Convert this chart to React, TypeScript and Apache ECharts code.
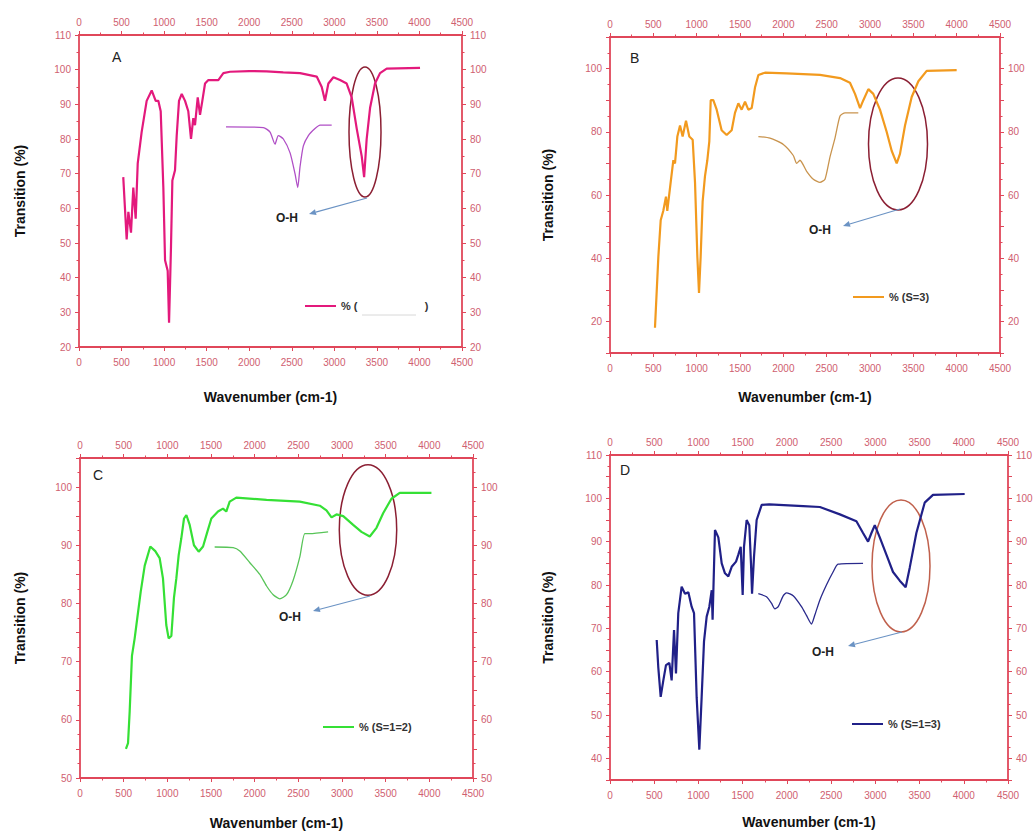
import React, { useEffect, useRef } from "react";
import * as echarts from "echarts";

// ---------- DATA (wavenumber cm-1, transmission %) ----------
const aMain: [number, number][] = [
  [520, 69], [560, 51], [580, 59], [611, 53], [638, 66], [666, 57], [690, 73], [736, 82], [795, 91], [854, 94],
  [901, 91], [932, 91], [960, 88], [991, 66], [1011, 45], [1042, 42], [1058, 27], [1081, 49], [1097, 68], [1128, 71],
  [1148, 81], [1175, 91], [1207, 93], [1246, 91], [1284, 88], [1316, 80], [1343, 86], [1363, 84], [1395, 92], [1422, 87],
  [1449, 91], [1481, 96], [1520, 97], [1637, 97], [1696, 99], [1774, 99.4], [2000, 99.6], [2205, 99.5], [2400, 99.2],
  [2597, 99], [2793, 98], [2852, 95], [2890, 91], [2930, 96], [2989, 97.8], [3067, 97], [3145, 96], [3204, 92],
  [3263, 83], [3322, 75], [3350, 69], [3380, 80], [3420, 89], [3478, 96], [3537, 99], [3615, 100.3], [4007, 100.5],
];
const aInset: [number, number][] = [
  [1727, 83.5], [2166, 83.3], [2245, 82], [2303, 78.5], [2342, 81], [2401, 80], [2480, 76], [2538, 70], [2570, 66],
  [2597, 72], [2636, 78], [2695, 81], [2773, 83], [2832, 84], [2969, 84],
];
const bMain: [number, number][] = [
  [519, 18], [558, 40.5], [585, 52], [615, 55], [646, 59.5], [661, 55], [700, 64], [731, 71], [750, 70], [777, 78.5],
  [808, 82], [838, 78.5], [877, 83.5], [915, 78.5], [954, 77.5], [981, 64], [1008, 40.5], [1027, 29], [1046, 40.5],
  [1069, 58], [1096, 66], [1123, 71], [1146, 77], [1162, 90], [1192, 90], [1231, 87], [1288, 80.5], [1346, 79],
  [1404, 80.5], [1442, 86], [1481, 89], [1519, 87], [1558, 89.5], [1596, 87], [1635, 87.5], [1673, 94], [1712, 98],
  [1788, 98.7], [2038, 98.5], [2423, 98], [2654, 97], [2769, 95.5], [2827, 92], [2885, 87.5], [2923, 90], [2981, 93.5],
  [3038, 92], [3115, 87], [3192, 80], [3250, 74], [3308, 70], [3346, 73], [3404, 82], [3481, 91], [3558, 96],
  [3654, 99.3], [4000, 99.5],
];
const bInset: [number, number][] = [
  [1712, 78.5], [1846, 78], [2000, 76], [2115, 72.5], [2154, 70], [2192, 71], [2269, 67.5], [2346, 65], [2423, 64],
  [2481, 65], [2538, 72], [2596, 78], [2654, 85], [2712, 86], [2865, 86],
];
const cMain: [number, number][] = [
  [526, 55], [550, 56], [569, 61.5], [595, 71], [626, 74], [656, 77.5], [695, 82], [741, 86.5], [805, 89.8], [862, 89],
  [912, 87.8], [950, 84.3], [988, 76.3], [1015, 74], [1046, 74.4], [1076, 81], [1103, 84.3], [1130, 88.3], [1160, 91.2],
  [1191, 94.6], [1218, 95.2], [1256, 93.5], [1305, 90], [1359, 88.9], [1409, 89.8], [1458, 92.3], [1504, 94.6],
  [1580, 95.8], [1637, 96.3], [1675, 95.8], [1714, 97.5], [1790, 98.2], [2136, 97.8], [2517, 97.5], [2746, 96.8],
  [2822, 96], [2880, 94.8], [2937, 95.3], [3014, 95], [3128, 93.5], [3223, 92.3], [3318, 91.5], [3395, 93],
  [3471, 95.5], [3566, 98], [3661, 99], [4024, 99],
];
const cInset: [number, number][] = [
  [1542, 89.7], [1754, 89.6], [1830, 89], [1945, 87], [2059, 85], [2136, 83], [2212, 81.5], [2288, 80.8], [2365, 81.5],
  [2441, 84], [2517, 88], [2574, 92], [2632, 92], [2841, 92.3],
];
const dMain: [number, number][] = [
  [528, 67.3], [546, 61], [573, 54.2], [603, 58], [633, 61.5], [671, 62], [697, 58], [724, 69.6], [746, 59.6],
  [772, 73.5], [810, 79.6], [848, 78], [886, 78.3], [923, 75], [950, 73.5], [980, 54], [1010, 42], [1036, 54],
  [1063, 67], [1093, 72.7], [1123, 75], [1150, 78.8], [1160, 72], [1187, 92.7], [1225, 91], [1263, 85], [1300, 82.7],
  [1338, 82], [1376, 84.2], [1425, 85.4], [1451, 87], [1478, 88.8], [1500, 77.7], [1515, 88.8], [1545, 95], [1575, 93.8],
  [1594, 85], [1606, 78], [1628, 86.5], [1658, 95], [1715, 98.5], [1800, 98.6], [2184, 98.2], [2373, 98], [2599, 96.3],
  [2786, 94.7], [2861, 92], [2918, 90], [2956, 92], [2994, 93.8], [3050, 91], [3125, 87], [3200, 83], [3276, 81],
  [3343, 79.5], [3389, 84], [3464, 92], [3558, 99], [3652, 100.8], [4010, 101],
];
const dInset: [number, number][] = [
  [1677, 78], [1770, 77.3], [1826, 75.8], [1864, 74.5], [1902, 75], [1958, 77.5], [1996, 78.2], [2071, 77.5],
  [2165, 75], [2221, 73], [2278, 71], [2315, 73], [2372, 76.5], [2447, 80], [2522, 83], [2579, 84.8], [2861, 85],
];

const panelLetters = ["A", "B", "C", "D"];
const legendNames = ["% (" + "\u00a0".repeat(22) + ")", "% (S=3)", "% (S=1=2)", "% (S=1=3)"];
const yRanges: [number, number, number, number][] = [
  // min, max, tick step, label step
  [20, 110, 10, 10],
  [10, 110, 10, 20],
  [50, 105, 5, 10],
  [35, 110, 5, 10],
];
const xRange = { min: 0, max: 4500, step: 500 };
const xTitle = "Wavenumber (cm-1)";
const yTitle = "Transition (%)";
const annotationLabel = "O-H";

// ---------- STYLE / LAYOUT ----------
const RED = "#e0475a";
const LBL = "#cf6070";
const FONT = "Liberation Sans, Arial, sans-serif";
const mains = [aMain, bMain, cMain, dMain];
const insets = [aInset, bInset, cInset, dInset];
const mainColors = ["#e3197c", "#f29a1e", "#35e035", "#202088"];
const insetColors = ["#b04fc6", "#c9944e", "#58c458", "#2a2a8c"];
const ellipseColors = ["#8b1f33", "#8b1f33", "#8b1f33", "#c0604c"];
const grids = [
  { left: 79, top: 35, width: 383, height: 312 },
  { left: 610, top: 37, width: 390, height: 316 },
  { left: 80, top: 458, width: 393, height: 320 },
  { left: 610, top: 455, width: 398, height: 325 },
];
const xNameGaps = [43, 37, 38, 35];
const yNameGaps = [52, 55, 53, 55];
const letterPos = [[117, 57], [635, 58], [98, 475], [625, 470]];
const ohPos = [[287, 218], [820, 230], [290, 617], [823, 652]];
const ellipses = [
  [365, 132, 16, 65],
  [898, 144, 29.5, 66],
  [368, 530, 28.7, 65.3],
  [901, 566, 29, 66],
];
const arrows = [
  [367, 198, 309, 214],
  [900, 209, 843, 226],
  [370, 596, 313, 611],
  [902, 632, 848, 646],
];
const legendPos = [[305, 300.5], [853, 291.5], [323, 721.5], [852, 718.5]];

function arrowEls(x1: number, y1: number, x2: number, y2: number, color: string) {
  const dx = x2 - x1, dy = y2 - y1;
  const len = Math.hypot(dx, dy);
  const ux = dx / len, uy = dy / len;
  const bx = x2 - ux * 7, by = y2 - uy * 7;
  const nx = -uy, ny = ux;
  return [
    { type: "line", shape: { x1, y1, x2: bx, y2: by }, style: { stroke: color, lineWidth: 1.2 }, silent: true },
    {
      type: "polygon",
      shape: { points: [[x2, y2], [bx + nx * 3, by + ny * 3], [bx - nx * 3, by - ny * 3]] },
      style: { fill: color },
      silent: true,
    },
  ];
}

function buildOption() {
  const xAxis: any[] = [];
  const yAxis: any[] = [];
  const series: any[] = [];
  const legend: any[] = [];
  const graphic: any[] = [];

  grids.forEach((g, i) => {
    const tick = { show: true, length: 4, lineStyle: { color: RED, width: 1 } };
    const minor = { show: true, splitNumber: 2, length: 2.5, lineStyle: { color: RED, width: 1 } };
    const line = { show: true, onZero: false, lineStyle: { color: RED, width: 1.8 } };
    const lab = { color: LBL, fontSize: 10, fontFamily: FONT, margin: 8, showMinLabel: true, showMaxLabel: true };
    ["bottom", "top"].forEach((pos) => {
      xAxis.push({
        type: "value",
        gridIndex: i,
        position: pos,
        min: xRange.min,
        max: xRange.max,
        interval: xRange.step,
        axisLine: line,
        axisTick: tick,
        minorTick: minor,
        splitLine: { show: false },
        axisLabel: { ...lab, margin: pos === "bottom" ? 10 : 8, formatter: (v: number) => String(v) },
        name: pos === "bottom" ? xTitle : "",
        nameLocation: "middle",
        nameGap: xNameGaps[i],
        nameTextStyle: { fontFamily: FONT, fontWeight: "bold", fontSize: 14, color: "#111" },
      });
    });
    const [ymin, ymax, ystep, lstep] = yRanges[i];
    ["left", "right"].forEach((pos) => {
      yAxis.push({
        type: "value",
        gridIndex: i,
        position: pos,
        min: ymin,
        max: ymax,
        interval: ystep,
        axisLine: line,
        axisTick: tick,
        minorTick: minor,
        splitLine: { show: false },
        axisLabel: {
          ...lab,
          formatter: (v: number) => (Math.abs(v % lstep) < 1e-9 ? String(v) : ""),
        },
        name: pos === "left" ? yTitle : "",
        nameLocation: "middle",
        nameGap: yNameGaps[i],
        nameTextStyle: { fontFamily: FONT, fontWeight: "bold", fontSize: 14, color: "#111" },
      });
    });
    series.push({
      type: "line",
      name: legendNames[i],
      xAxisIndex: i * 2,
      yAxisIndex: i * 2,
      data: mains[i],
      showSymbol: false,
      symbol: "none",
      lineStyle: { color: mainColors[i], width: 2.2 },
      itemStyle: { color: mainColors[i] },
      z: 3,
    });
    series.push({
      type: "line",
      name: "inset " + panelLetters[i],
      xAxisIndex: i * 2,
      yAxisIndex: i * 2,
      data: insets[i],
      showSymbol: false,
      symbol: "none",
      smooth: 0.2,
      lineStyle: { color: insetColors[i], width: 1.3 },
      itemStyle: { color: insetColors[i] },
      z: 2,
    });
    legend.push({
      left: legendPos[i][0],
      top: legendPos[i][1],
      padding: 0,
      itemWidth: 31,
      itemHeight: 2,
      icon: "rect",
      selectedMode: false,
      data: [legendNames[i]],
      textStyle: { fontFamily: FONT, fontSize: 11, fontWeight: "bold", color: "#333" },
    });
    graphic.push({
      type: "text",
      left: letterPos[i][0] - 5,
      top: letterPos[i][1] - 7,
      style: { text: panelLetters[i], font: `14px ${FONT}`, fill: "#222" },
      silent: true,
    });
    graphic.push({
      type: "text",
      x: ohPos[i][0],
      y: ohPos[i][1],
      style: { text: annotationLabel, font: `bold 12px ${FONT}`, fill: "#222", align: "center", verticalAlign: "middle" },
      silent: true,
    });
    const [cx, cy, rx, ry] = ellipses[i];
    graphic.push({
      type: "ellipse",
      shape: { cx, cy, rx, ry },
      style: { fill: "none", stroke: ellipseColors[i], lineWidth: 1.5 },
      silent: true,
    });
    const [x1, y1, x2, y2] = arrows[i];
    graphic.push(...arrowEls(x1, y1, x2, y2, "#6b93c4"));
  });

  // faint blank line inside legend A
  graphic.push({
    type: "line",
    shape: { x1: 362, y1: 315, x2: 416, y2: 315 },
    style: { stroke: "#d8d8d8", lineWidth: 1 },
    silent: true,
  });

  return {
    animation: false,
    backgroundColor: "#ffffff",
    grid: grids.map((g) => ({ ...g, containLabel: false })),
    xAxis,
    yAxis,
    legend,
    series,
    graphic,
  };
}

export default function App() {
  const ref = useRef<HTMLDivElement>(null);
  useEffect(() => {
    if (!ref.current) return;
    const chart = echarts.init(ref.current, undefined, { renderer: "svg" });
    chart.setOption(buildOption() as any);
    return () => chart.dispose();
  }, []);
  return (
    <div
      ref={ref}
      style={{ position: "absolute", left: 0, top: 0, width: 1036, height: 831, background: "#fff" }}
    />
  );
}
